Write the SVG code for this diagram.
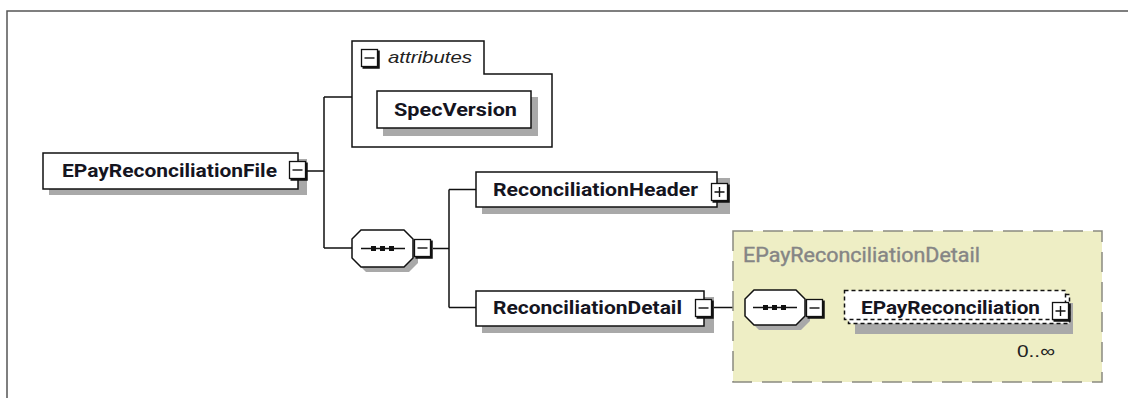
<svg xmlns="http://www.w3.org/2000/svg" xmlns:xlink="http://www.w3.org/1999/xlink" width="1128" height="398" viewBox="0 0 1128 398">
<style>
.box{fill:#fff;stroke:#111;stroke-width:1.5}
.shadow{fill:#a9a9a9}
.lbl{font-family:Roboto,"Liberation Sans",Arial,sans-serif;font-weight:bold;font-size:19px;fill:#15151f}
.title{font-family:Roboto,"Liberation Sans",Arial,sans-serif;font-weight:normal;font-size:20px;fill:#858585;stroke:#858585;stroke-width:0.4}
.it{font-family:"Liberation Sans",Arial,sans-serif;font-style:italic;font-size:17px;fill:#222}
.occ{font-family:"Liberation Sans",Arial,sans-serif;font-size:17px;fill:#222}
.conn{fill:none;stroke:#111;stroke-width:1.5}
.dash{fill:none;stroke:#111;stroke-width:1.5;stroke-dasharray:4 3}
</style>
<defs>
<g id="btn-minus">
<rect x="0.5" y="0.5" width="16" height="17" fill="#fff" stroke="#111" stroke-width="1.3"/>
<path d="M17.5,1.5 V18.5 H1.5" fill="none" stroke="#111" stroke-width="2.5"/>
<path d="M3.5,9 H13.5" stroke="#111" stroke-width="1.4"/>
</g>
<g id="btn-plus">
<rect x="0.5" y="0.5" width="16" height="17" fill="#fff" stroke="#111" stroke-width="1.3"/>
<path d="M17.5,1.5 V18.5 H1.5" fill="none" stroke="#111" stroke-width="2.5"/>
<path d="M3.5,9 H13.5 M8.5,4 V14" stroke="#111" stroke-width="1.4"/>
</g>
<g id="seq-dots">
<rect x="0" y="0" width="5" height="5" fill="#111"/>
<rect x="9" y="0" width="5" height="5" fill="#111"/>
<rect x="18" y="0" width="5" height="5" fill="#111"/>
</g>
</defs>

<rect width="1128" height="398" fill="#fff"/>
<path d="M7,398 V11 H1128" fill="none" stroke="#555" stroke-width="1.5"/>

<g id="connectors">
<path class="conn" d="M307,171 H324 M324,97 V248 M324,97 H352 M324,248 H352"/>
<path class="conn" d="M433,248.5 H449 M449,189.5 V307.5 M449,189.5 H476 M449,307.5 H476"/>
<path class="conn" d="M714,307.5 H745"/>
<path class="dash" d="M825,307.5 H844"/>
</g>

<g id="group-detail">
<rect x="733" y="231" width="369" height="151" fill="#eeeec5" stroke="#8a8a80" stroke-width="1.5" stroke-dasharray="20 10"/>
<text class="title" x="743" y="262" textLength="237" lengthAdjust="spacingAndGlyphs">EPayReconciliationDetail</text>
</g>

<g id="node-file">
<rect class="shadow" x="49" y="159" width="258" height="36"/>
<rect class="box" x="43" y="153" width="255" height="36"/>
<text class="lbl" x="62" y="177" textLength="215" lengthAdjust="spacingAndGlyphs">EPayReconciliationFile</text>
<use xlink:href="#btn-minus" x="289" y="161"/>
</g>

<g id="node-attributes">
<path class="box" d="M352,147 V41 H484 V74 H552 V147 Z"/>
<use xlink:href="#btn-minus" x="361" y="49"/>
<text class="it" x="388" y="63" textLength="84" lengthAdjust="spacingAndGlyphs">attributes</text>
</g>

<g id="node-specversion">
<rect class="shadow" x="383" y="97" width="155" height="39"/>
<rect class="box" x="377" y="91" width="154" height="37"/>
<text class="lbl" x="394" y="116" textLength="123" lengthAdjust="spacingAndGlyphs">SpecVersion</text>
</g>

<g id="node-sequence1">
<path class="shadow" d="M366,235 H409 L418,244 V263 L409,272 H366 L357,263 V244 Z"/>
<path class="box" d="M361,230 H404 L413,239 V258 L404,267 H361 L352,258 V239 Z"/>
<path d="M361,248.5 H405" stroke="#111" stroke-width="1.5"/>
<use xlink:href="#seq-dots" x="371" y="246"/>
<use xlink:href="#btn-minus" x="414" y="239"/>
</g>

<g id="node-header">
<rect class="shadow" x="482" y="178" width="248" height="36"/>
<rect class="box" x="476" y="172" width="241" height="35"/>
<text class="lbl" x="493" y="196" textLength="205" lengthAdjust="spacingAndGlyphs">ReconciliationHeader</text>
<use xlink:href="#btn-plus" x="711" y="183"/>
</g>

<g id="node-detail">
<rect class="shadow" x="482" y="297" width="232" height="36"/>
<rect class="box" x="476" y="291" width="228" height="35"/>
<text class="lbl" x="493" y="314" textLength="189" lengthAdjust="spacingAndGlyphs">ReconciliationDetail</text>
<use xlink:href="#btn-minus" x="695" y="299"/>
</g>

<g id="node-sequence2">
<path class="shadow" d="M759,295 H801 L810,304 V321 L801,330 H759 L750,321 V304 Z"/>
<path class="box" d="M754,290 H796 L805,299 V316 L796,325 H754 L745,316 V299 Z"/>
<path d="M753,307.5 H797" stroke="#111" stroke-width="1.5"/>
<use xlink:href="#seq-dots" x="763" y="305"/>
<use xlink:href="#btn-minus" x="806" y="299"/>
</g>

<g id="node-epayreconciliation">
<rect class="shadow" x="855" y="303" width="218" height="31"/>
<rect x="848.5" y="294.5" width="221" height="29" fill="#fff" stroke="#111" stroke-width="1.5" stroke-dasharray="4 3"/>
<rect x="844.5" y="290.5" width="221" height="29" fill="#fff" stroke="#111" stroke-width="1.5" stroke-dasharray="4 3"/>
<text class="lbl" x="861" y="314" textLength="179" lengthAdjust="spacingAndGlyphs">EPayReconciliation</text>
<use xlink:href="#btn-plus" x="1052" y="302"/>
<text class="occ" x="1017" y="357" textLength="38" lengthAdjust="spacingAndGlyphs">0..∞</text>
</g>
</svg>
